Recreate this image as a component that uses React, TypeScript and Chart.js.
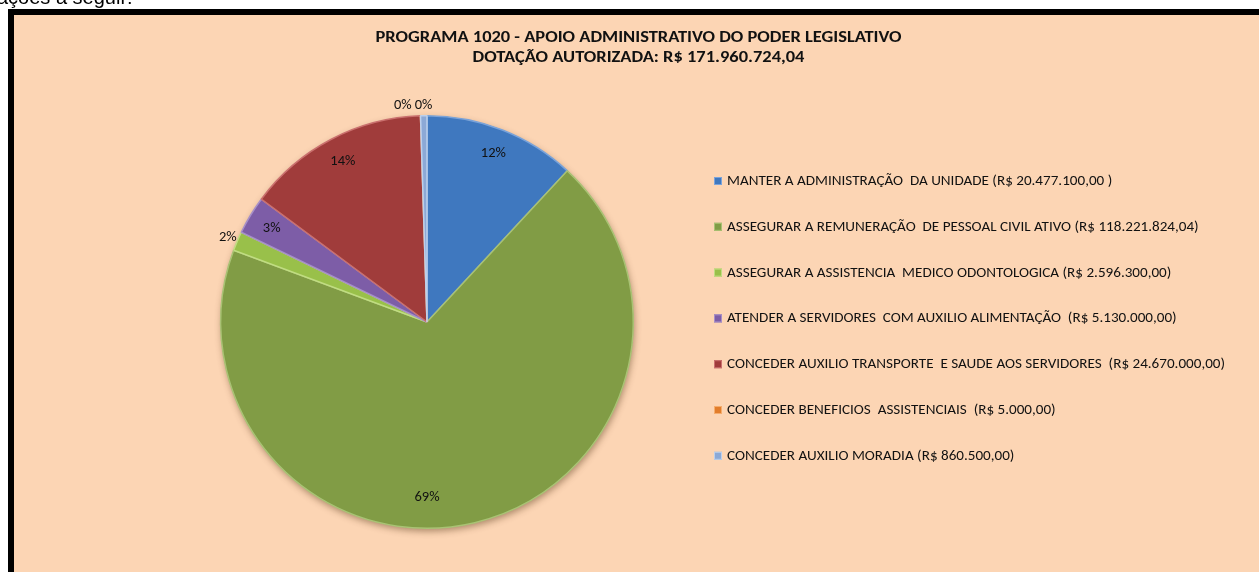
import React, { useEffect, useRef } from "react";
import { Chart, registerables } from "chart.js";

Chart.register(...registerables);

const introText = "ações a seguir:";
const titleLines = [
  "PROGRAMA 1020 - APOIO ADMINISTRATIVO DO PODER LEGISLATIVO",
  "DOTAÇÃO AUTORIZADA: R$ 171.960.724,04",
];
const categories = [
  "MANTER A ADMINISTRAÇÃO  DA UNIDADE (R$ 20.477.100,00 )",
  "ASSEGURAR A REMUNERAÇÃO  DE PESSOAL CIVIL ATIVO (R$ 118.221.824,04)",
  "ASSEGURAR A ASSISTENCIA  MEDICO ODONTOLOGICA (R$ 2.596.300,00)",
  "ATENDER A SERVIDORES  COM AUXILIO ALIMENTAÇÃO  (R$ 5.130.000,00)",
  "CONCEDER AUXILIO TRANSPORTE  E SAUDE AOS SERVIDORES  (R$ 24.670.000,00)",
  "CONCEDER BENEFICIOS  ASSISTENCIAIS  (R$ 5.000,00)",
  "CONCEDER AUXILIO MORADIA (R$ 860.500,00)",
];
const values = [20477100, 118221824.04, 2596300, 5130000, 24670000, 5000, 860500];
const percentLabels = ["12%", "69%", "2%", "3%", "14%", "0%", "0%"];
const sliceColors = ["#3F78BF", "#819C45", "#99C04A", "#7D5DA7", "#A03C3B", "#E27D2B", "#8CA9D6"];
const edgeColors = ["#7AA3DA", "#A9C274", "#C0DC82", "#A68FC8", "#CA706E", "#F5AD6E", "#BCD0EC"];

const FONT = "Carlito, 'Liberation Sans Narrow', 'Open Sans', sans-serif";
const BG = "#FCD5B4";
const TEXT = "#111111";

function fillScaled(ctx: CanvasRenderingContext2D, text: string, x: number, y: number, sx: number) {
  ctx.save();
  ctx.translate(x, y);
  ctx.scale(sx, 1);
  ctx.fillText(text, 0, 0);
  ctx.restore();
}

const pieShadow = {
  id: "pieShadow",
  beforeDatasetsDraw(chart: any) {
    const arc = chart.getDatasetMeta(0).data[0];
    if (!arc) return;
    const { x, y, outerRadius } = arc.getProps(["x", "y", "outerRadius"], true);
    const ctx = chart.ctx;
    ctx.save();
    ctx.shadowColor = "rgba(70,40,10,0.45)";
    ctx.shadowBlur = 7;
    ctx.shadowOffsetY = 3;
    ctx.shadowOffsetX = 1;
    ctx.beginPath();
    ctx.arc(x, y, outerRadius, 0, Math.PI * 2);
    ctx.fillStyle = sliceColors[1];
    ctx.fill();
    ctx.restore();
  },
};

const sliceLabels = {
  id: "sliceLabels",
  afterDatasetsDraw(chart: any) {
    const meta = chart.getDatasetMeta(0);
    const ctx = chart.ctx;
    const total = values.reduce((a, b) => a + b, 0);
    ctx.save();
    ctx.font = `14.5px ${FONT}`;
    ctx.fillStyle = TEXT;
    ctx.textBaseline = "middle";
    ctx.textAlign = "center";
    const items = meta.data.map((el: any, i: number) => {
      const { x, y, startAngle, endAngle, outerRadius } = el.getProps(
        ["x", "y", "startAngle", "endAngle", "outerRadius"],
        true
      );
      let mid = (startAngle + endAngle) / 2;
      const frac = values[i] / total;
      // best fit: a dominant slice that covers the bottom gets its label at the bottom
      if (frac > 0.5 && startAngle < Math.PI / 2 && endAngle > Math.PI / 2) mid = Math.PI / 2;
      const outside = frac < 0.025;
      const dist = outside ? outerRadius * 1.05 : outerRadius * (frac > 0.5 ? 0.85 : 0.88);
      return {
        text: percentLabels[i],
        x: x + Math.cos(mid) * dist,
        y: y + Math.sin(mid) * dist,
        w: ctx.measureText(percentLabels[i]).width,
        outside,
      };
    });
    for (let i = items.length - 2; i >= 0; i--) {
      const a = items[i];
      const b = items[i + 1];
      if (a.outside && b.outside && Math.abs(a.y - b.y) < 14) {
        const overlap = a.x + a.w / 2 + 3 - (b.x - b.w / 2);
        if (overlap > 0) a.x -= overlap;
      }
    }
    items.forEach((it: any) => ctx.fillText(it.text, it.x, it.y));
    ctx.restore();
  },
};

const titleAndLegend = {
  id: "titleAndLegend",
  afterDraw(chart: any) {
    const ctx = chart.ctx;
    ctx.save();
    ctx.fillStyle = TEXT;
    ctx.textBaseline = "middle";
    ctx.textAlign = "center";
    ctx.font = `bold 15px ${FONT}`;
    titleLines.forEach((t, i) => fillScaled(ctx, t, chart.width / 2 + 2, 23 + i * 20, 1.23));

    const x0 = 700;
    const y0 = 166;
    const step = 45.8;
    const box = 8;
    ctx.textAlign = "left";
    ctx.font = `14px ${FONT}`;
    categories.forEach((label, i) => {
      const y = y0 + i * step;
      ctx.fillStyle = sliceColors[i];
      ctx.fillRect(x0, y - box / 2, box, box);
      ctx.strokeStyle = edgeColors[i];
      ctx.lineWidth = 1;
      ctx.strokeRect(x0 + 0.5, y - box / 2 + 0.5, box - 1, box - 1);
      ctx.fillStyle = TEXT;
      fillScaled(ctx, label, x0 + box + 5, y + 0.5, 1.08);
    });
    ctx.restore();
  },
};

export default function App() {
  const canvasRef = useRef<HTMLCanvasElement | null>(null);

  useEffect(() => {
    document.body.style.overflow = "hidden";
    const canvas = canvasRef.current;
    if (!canvas) return;
    const chart = new Chart(canvas, {
      type: "pie",
      data: {
        labels: categories,
        datasets: [
          {
            data: values,
            backgroundColor: sliceColors,
            borderColor: edgeColors,
            borderWidth: 1.5,
          },
        ],
      },
      options: {
        animation: false,
        responsive: false,
        maintainAspectRatio: false,
        layout: { padding: { top: 100, bottom: 43, left: 206, right: 625 } },
        plugins: {
          legend: { display: false },
          title: { display: false },
          tooltip: { enabled: false },
        },
      },
      plugins: [pieShadow, sliceLabels, titleAndLegend],
    });
    return () => chart.destroy();
  }, []);

  return (
    <>
      <div
        style={{
          position: "fixed",
          left: -3,
          top: -13,
          fontFamily: "'Liberation Sans', Arial, sans-serif",
          fontSize: 20,
          lineHeight: "20px",
          color: "#000",
          whiteSpace: "nowrap",
        }}
      >
        {introText}
      </div>
      <div
        style={{
          position: "fixed",
          left: 8,
          top: 9,
          width: 1251,
          height: 563,
          boxSizing: "border-box",
          borderLeft: "6px solid #000",
          borderTop: "6px solid #000",
          background: BG,
          overflow: "hidden",
        }}
      >
        <canvas
          ref={canvasRef}
          width={1245}
          height={557}
          style={{ position: "absolute", left: 0, top: 0, width: 1245, height: 557 }}
        />
      </div>
    </>
  );
}
